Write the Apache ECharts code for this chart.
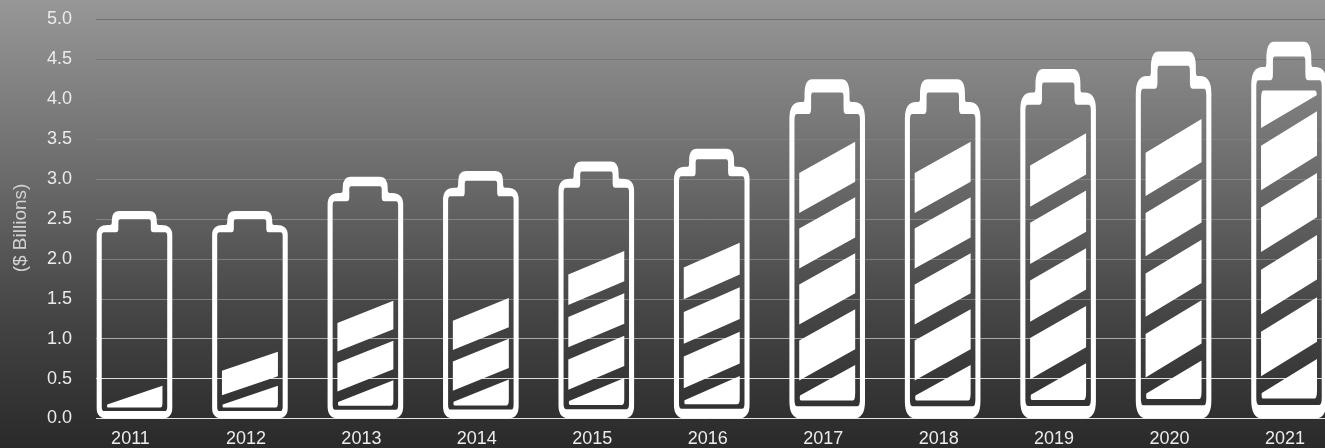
<!DOCTYPE html>
<html>
<head>
<meta charset="utf-8">
<style>
  html, body { margin: 0; padding: 0; background: #2a2a2a; }
  #chart { width: 1325px; height: 448px; }
</style>
<script src="https://cdn.jsdelivr.net/npm/echarts@6/dist/echarts.min.js"></script>
</head>
<body>
<div id="chart"></div>
<script>
// Annual totals in $ billions: the height of each battery outline
const years = ['2011', '2012', '2013', '2014', '2015', '2016', '2017', '2018', '2019', '2020', '2021'];
const totals = [2.6, 2.6, 3.03, 3.1, 3.22, 3.38, 4.25, 4.25, 4.38, 4.6, 4.72];
// Number of charge stripes lit inside each battery
const chargeStripes = [1, 2, 3, 3, 4, 4, 5, 5, 5, 5, 6];
const yTicks = { min: 0, max: 5, interval: 0.5 };
// One colour per horizontal rule, from 0.0 upwards
const ruleColors = ['#e4e4e4', '#dcdcdc', '#a8a8a8', '#7c7c7c', '#7c7c7c', '#848484',
                    '#848484', '#7e7e7e', '#7b7b7b', '#767676', '#727272'];

// Battery icon in unit space: u runs left to right, v runs bottom to top.
// The symbol is stretched to the bar height, so strokes and stripes scale with the value.
const pt = (u, v) => (u * 1000).toFixed(0) + ' ' + ((1 - v) * 1000).toFixed(0);
const M = (u, v) => 'M' + pt(u, v);
const L = (u, v) => 'L' + pt(u, v);
const Q = (cu, cv, u, v) => 'Q' + pt(cu, cv) + ' ' + pt(u, v);

const outline = [
  M(0, 0.05), L(0, 0.885), Q(0, 0.933, 0.15, 0.933), L(0.18, 0.933), Q(0.2, 0.933, 0.2, 0.945),
  L(0.2, 0.955), Q(0.2, 1, 0.3, 1), L(0.695, 1), Q(0.795, 1, 0.795, 0.955), L(0.795, 0.945),
  Q(0.795, 0.933, 0.815, 0.933), L(0.85, 0.933), Q(1, 0.933, 1, 0.885), L(1, 0.05),
  Q(1, 0, 0.85, 0), L(0.15, 0), Q(0, 0, 0, 0.05), 'Z'
].join('');

// Drawn against the outline's direction so that it cuts a hole
const hollow = [
  M(0.067, 0.056), Q(0.067, 0.036, 0.1, 0.036), L(0.9, 0.036), Q(0.933, 0.036, 0.933, 0.056),
  L(0.933, 0.88), Q(0.933, 0.898, 0.905, 0.898), L(0.75, 0.898), Q(0.716, 0.898, 0.716, 0.915),
  L(0.716, 0.948), Q(0.716, 0.961, 0.69, 0.961), L(0.31, 0.961), Q(0.287, 0.961, 0.287, 0.948),
  L(0.287, 0.915), Q(0.287, 0.898, 0.255, 0.898), L(0.095, 0.898), Q(0.067, 0.898, 0.067, 0.88), 'Z'
].join('');

const STRIPE_LEFT = 0.13, STRIPE_RIGHT = 0.87;
const STRIPE_PERIOD = 0.1645, STRIPE_THICK = 0.118, STRIPE_RISE = 0.092;
const FIRST_TOP = 0.158, CHARGE_CEILING = 0.871, CHARGE_FLOOR = 0.053;

function stripePath(k) {
  const topRight = FIRST_TOP + STRIPE_PERIOD * k;
  const topLeft = topRight - STRIPE_RISE;
  if (k === 0) {
    // lowest wedge, rounded against the bottom of the cell
    return [
      M(0.14, 0.068), L(STRIPE_RIGHT, topRight), L(STRIPE_RIGHT, 0.075),
      Q(STRIPE_RIGHT, CHARGE_FLOOR, 0.84, CHARGE_FLOOR), L(0.155, CHARGE_FLOOR),
      Q(0.13, CHARGE_FLOOR, 0.14, 0.068), 'Z'
    ].join('');
  }
  if (topRight > CHARGE_CEILING) {
    // highest stripe, cut flat against the top of the cell
    const left = topLeft - STRIPE_THICK;
    return [
      M(STRIPE_LEFT, left), L(STRIPE_RIGHT - 0.005, 0.858),
      Q(0.87, CHARGE_CEILING, 0.84, CHARGE_CEILING), L(0.16, CHARGE_CEILING),
      Q(STRIPE_LEFT, CHARGE_CEILING, STRIPE_LEFT, 0.845), 'Z'
    ].join('');
  }
  return [
    M(STRIPE_LEFT, topLeft - STRIPE_THICK), L(STRIPE_LEFT, topLeft),
    L(STRIPE_RIGHT, topRight), L(STRIPE_RIGHT, topRight - STRIPE_THICK), 'Z'
  ].join('');
}

function batterySymbol(stripes) {
  let d = outline + hollow;
  for (let k = 0; k < stripes; k++) d += stripePath(k);
  return 'path://' + d;
}

const chart = echarts.init(document.getElementById('chart'), null, { renderer: 'canvas' });
const labelFont = { fontFamily: '"Liberation Sans", Arial, sans-serif', fontSize: 18, color: '#ececec' };

chart.setOption({
  animation: false,
  backgroundColor: {
    type: 'linear', x: 0, y: 0, x2: 0, y2: 1,
    colorStops: [
      { offset: 0, color: '#979797' },
      { offset: 0.4, color: '#6a6a6a' },
      { offset: 0.7, color: '#454545' },
      { offset: 0.93, color: '#303030' },
      { offset: 1, color: '#2a2a2a' }
    ]
  },
  grid: [
    { left: 96, right: 0, top: 19.5, height: 399, outerBoundsMode: 'none' },
    { left: 76.75, width: 1270, top: 19.5, height: 399, outerBoundsMode: 'none' }
  ],
  xAxis: [
    { gridIndex: 0, type: 'value', show: false, min: 0, max: 1 },
    {
      gridIndex: 1, type: 'category', data: years,
      axisLine: { show: false }, axisTick: { show: false },
      axisLabel: { ...labelFont, margin: 12, padding: [0, 8, 0, 0] }
    }
  ],
  yAxis: [
    {
      gridIndex: 0, type: 'value', ...yTicks,
      axisLine: { show: false }, axisTick: { show: false },
      axisLabel: { ...labelFont, margin: 24, padding: [2, 0, 0, 0], formatter: v => v.toFixed(1) },
      splitLine: { show: true, lineStyle: { width: 1, color: ruleColors } }
    },
    { gridIndex: 1, type: 'value', ...yTicks, show: false, splitLine: { show: false } }
  ],
  graphic: [{
    type: 'text', x: 20.5, y: 228, rotation: Math.PI / 2,
    style: {
      text: '($ Billions)', fill: '#d2d2d2', align: 'center', verticalAlign: 'middle',
      font: '19px "Liberation Sans", Arial, sans-serif'
    }
  }],
  series: [{
    type: 'pictorialBar',
    xAxisIndex: 1, yAxisIndex: 1,
    symbolSize: [75.6, '100%'],
    symbolPosition: 'start',
    itemStyle: { color: '#ffffff' },
    data: totals.map((value, i) => ({ value, symbol: batterySymbol(chargeStripes[i]) }))
  }]
});
</script>
</body>
</html>
